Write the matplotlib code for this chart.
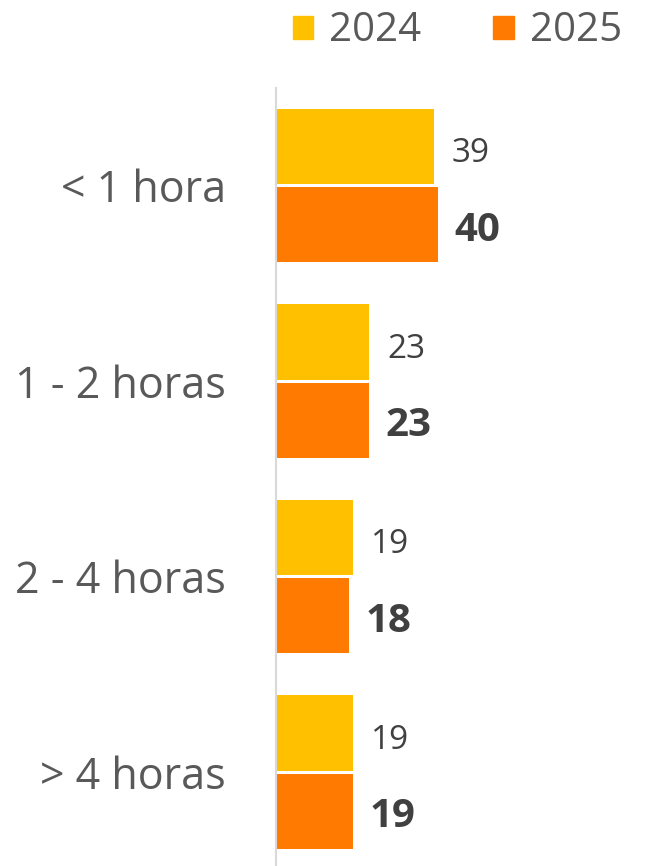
import matplotlib
matplotlib.use("Agg")
import matplotlib.pyplot as plt
from matplotlib.patches import Patch

plt.rcParams["font.family"] = ["Open Sans", "Lato", "DejaVu Sans"]

categories = ["< 1 hora", "1 - 2 horas", "2 - 4 horas", "> 4 horas"]
years = ["2024", "2025"]
values_2024 = [39, 23, 19, 19]
values_2025 = [40, 23, 18, 19]

YELLOW = "#FFC000"
ORANGE = "#FF7A00"
LABEL_GREY = "#595959"
VALUE_GREY = "#404040"

W, H = 656, 866
fig = plt.figure(figsize=(W / 100, H / 100), dpi=100)
# axes in pixel terms: left edge at the vertical rule, top just under the legend
left, top, bottom = 276, 88, 0
ax = fig.add_axes([left / W, bottom / H, (W - left) / W, (H - top - bottom) / H])

pos = list(range(len(categories)))
bar_h = 0.385
off = 0.2
b1 = ax.barh([p - off for p in pos], values_2024, height=bar_h, color=YELLOW, label=years[0])
b2 = ax.barh([p + off for p in pos], values_2025, height=bar_h, color=ORANGE, label=years[1])

for rect, v in zip(b1, values_2024):
    ax.annotate(str(v), (rect.get_width(), rect.get_y() + rect.get_height() / 2),
                xytext=(13, -5), textcoords="offset points", va="center", ha="left",
                fontsize=24, color=VALUE_GREY)
for rect, v in zip(b2, values_2025):
    ax.annotate(str(v), (rect.get_width(), rect.get_y() + rect.get_height() / 2),
                xytext=(12, -4), textcoords="offset points", va="center", ha="left",
                fontsize=29, fontweight="bold", color=VALUE_GREY)

ax.set_xlim(0, 94)
ax.set_ylim(3.48, -0.5)
ax.set_yticks(pos)
ax.set_yticklabels(categories, fontsize=31, color=LABEL_GREY)
ax.tick_params(axis="y", length=0, pad=36)
ax.set_xticks([])
for s in ["top", "right", "bottom"]:
    ax.spines[s].set_visible(False)
ax.spines["left"].set_color("#D9D9D9")
ax.spines["left"].set_linewidth(1.5)

handles = [Patch(color=YELLOW, label=years[0]), Patch(color=ORANGE, label=years[1])]
leg = fig.legend(handles=handles, loc="center", bbox_to_anchor=(0.697, 0.964), ncol=2,
                 frameon=False, fontsize=29, handlelength=0.5, handleheight=0.5,
                 handletextpad=0.4, columnspacing=1.8, borderpad=0, borderaxespad=0)
for t in leg.get_texts():
    t.set_color(LABEL_GREY)

fig.savefig("out.png", dpi=100, facecolor="white")
